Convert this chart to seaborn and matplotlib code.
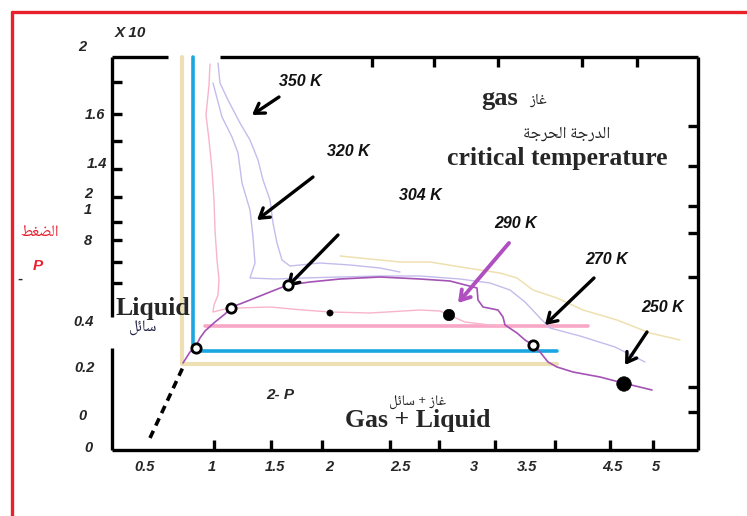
import matplotlib
matplotlib.use("Agg")
import matplotlib.pyplot as plt
from matplotlib.lines import Line2D
from matplotlib import font_manager
import seaborn as sns
import pandas as pd

sns.set_theme(style="white")
plt.rcParams['font.family'] = ['Liberation Sans', 'DejaVu Sans']

# ---------------- data (V along x, P along y, chart units) ----------------
beige_x = [0.70, 0.70, 4.45]
beige_y = [3.93, 0.86, 0.86]
blue_x = [0.81, 0.81, 4.45]
blue_y = [3.93, 0.99, 0.99]
pinkbar_x = [0.93, 4.76]
pinkbar_y = [1.24, 1.24]
dash_x = [0.38, 0.72]
dash_y = [0.12, 0.85]

purple_x = [0.71, 0.78, 0.84, 0.88, 0.93, 1.03, 1.13, 1.20, 1.33, 1.48, 1.63, 1.76,
            1.98, 2.28, 2.68, 3.08, 3.38, 3.65, 3.66, 3.71, 3.86, 3.91, 3.93, 4.05,
            4.13, 4.21, 4.28, 4.36, 4.45, 4.61, 4.88, 5.11, 5.40]
purple_y = [0.87, 0.98, 1.04, 1.12, 1.19, 1.28, 1.36, 1.43, 1.48, 1.54, 1.60, 1.65,
            1.68, 1.71, 1.73, 1.71, 1.69, 1.62, 1.50, 1.43, 1.40, 1.33, 1.25, 1.17,
            1.10, 1.05, 0.98, 0.88, 0.83, 0.78, 0.73, 0.67, 0.60]

pink_x = [0.98, 0.97, 0.94, 0.97, 1.00, 1.02, 1.03, 1.05, 1.07, 1.06, 1.02, 1.01,
          1.13, 1.25, 1.58, 1.91, 2.18, 2.58, 2.75, 3.08, 3.28, 3.37, 3.53, 3.78, 3.93]
pink_y = [3.86, 3.65, 3.35, 3.10, 2.80, 2.50, 2.20, 1.90, 1.70, 1.55, 1.45, 1.38,
          1.41, 1.42, 1.43, 1.40, 1.38, 1.37, 1.38, 1.40, 1.39, 1.35, 1.28, 1.25, 1.24]

lav1_x = [1.01, 1.10, 1.20, 1.26, 1.30, 1.38, 1.41, 1.43, 1.38, 1.63, 1.91, 2.28,
          2.68, 3.08, 3.48, 3.78, 3.98, 4.13, 4.28, 4.38, 4.68, 5.03, 5.33]
lav1_y = [3.67, 3.33, 3.13, 2.97, 2.67, 2.40, 2.13, 1.87, 1.72, 1.71, 1.72, 1.73,
          1.74, 1.74, 1.71, 1.67, 1.60, 1.48, 1.32, 1.22, 1.14, 1.03, 0.88]

lav2_x = [1.06, 1.08, 1.16, 1.28, 1.38, 1.46, 1.51, 1.58, 1.61, 1.65, 1.70, 1.78,
          2.08, 2.38, 2.68, 2.88]
lav2_y = [3.87, 3.67, 3.50, 3.27, 3.10, 2.90, 2.70, 2.50, 2.27, 2.07, 1.90, 1.84,
          1.87, 1.85, 1.82, 1.78]

tan_x = [2.28, 2.58, 2.88, 3.18, 3.55, 3.88, 4.05, 4.21, 4.45, 4.71, 5.05, 5.38, 5.68]
tan_y = [1.94, 1.91, 1.88, 1.88, 1.82, 1.77, 1.72, 1.60, 1.52, 1.40, 1.30, 1.17, 1.10]

open_x = [0.84, 1.19, 1.76, 4.21]
open_y = [1.02, 1.42, 1.65, 1.05]
dot_x = [2.18, 3.37, 5.12]
dot_y = [1.37, 1.35, 0.66]
dot_s = [20, 60, 95]

temp_labels = ["350 K", "320 K", "304 K", "290 K", "270 K", "250 K"]
temp_label_x = [1.88, 2.36, 3.08, 4.04, 4.95, 5.51]
temp_label_y = [3.68, 2.99, 2.54, 2.26, 1.90, 1.42]
arrow_tail_x = [1.67, 2.01, 2.26, 3.97, 4.82, 5.35]
arrow_tail_y = [3.53, 2.73, 2.15, 2.07, 1.72, 1.18]
arrow_head_x = [1.40, 1.45, 1.75, 3.46, 4.33, 5.13]
arrow_head_y = [3.35, 2.30, 1.63, 1.47, 1.25, 0.85]
arrow_colors = ['black', 'black', 'black', '#b050c0', 'black', 'black']

x_label_text = ["0.5", "1", "1.5", "2", "2.5", "3", "3.5", "4.5", "5"]
x_label_pos = [0.33, 1.00, 1.63, 2.17, 2.88, 3.62, 4.15, 5.00, 5.44]
y_label_text = ["2", "1.6", "1.4", "2", "1", "8", "0.4", "0.2", "0", "0"]
y_label_x = [-0.30, -0.17, -0.15, -0.24, -0.24, -0.24, -0.28, -0.27, -0.30, -0.24]
y_label_pos = [4.03, 3.35, 2.86, 2.56, 2.40, 2.09, 1.28, 0.82, 0.34, 0.02]

bottom_ticks = [1.02, 1.59, 2.10, 2.78, 3.27, 3.83, 4.43, 4.98, 5.41]
top_ticks = [2.60, 3.22, 3.86, 4.70, 5.25]
left_ticks = [3.68, 3.36, 3.09, 2.81, 2.53, 2.28, 2.10, 1.88, 1.67]
right_ticks = [3.24, 2.84, 2.44, 2.17, 1.73, 0.63, 0.38]

# Arabic words: shaped presentation forms in visual (left-to-right) order
AR_SHAPED = {
    'pressure': "\uFEC2\uFED0\uFEC0\uFEDF\uFE8D",                   # الضغط
    'gas': "\uFEAF\uFE8E\uFECF",                                      # غاز
    'liquid': "\uFEDE\uFE8B\uFE8E\uFEB3",                             # سائل
    'critical': "\uFE94\uFE9F\uFEAE\uFEA4\uFEDF\uFE8D "
                "\uFE94\uFE9F\uFEAD\uFEAA\uFEDF\uFE8D",               # الدرجة الحرجة
}
# same words with basic letters, reversed for left-to-right drawing
AR_PLAIN = {
    'pressure': "\u0637\u063A\u0636\u0644\u0627",
    'gas': "\u0632\u0627\u063A",
    'liquid': "\u0644\u0626\u0627\u0633",
    'critical': "\u0629\u062C\u0631\u062D\u0644\u0627 \u0629\u062C\u0631\u062F\u0644\u0627",
}


def pick_arabic_font():
    pref = ['Noto Naskh Arabic', 'Amiri', 'Noto Sans Arabic', 'Scheherazade New',
            'Cairo', 'Tajawal', 'Almarai', 'IBM Plex Sans Arabic', 'Lateef',
            'Noto Kufi Arabic', 'Changa', 'El Messiri', 'Harmattan', 'Reem Kufi']
    try:
        from fontTools.ttLib import TTFont
    except Exception:
        return None, False
    entries = font_manager.fontManager.ttflist
    needed = "".join(AR_SHAPED.values()).replace(" ", "")

    def check(f):
        try:
            tt = TTFont(f.fname, fontNumber=0, lazy=True)
            cmap = tt.getBestCmap() or {}
            return (0x0627 in cmap), all(ord(c) in cmap for c in needed)
        except Exception:
            return False, False
    best_plain = None
    for name in pref:
        for f in entries:
            if f.name == name:
                has, shaped = check(f)
                if shaped:
                    return f.name, True
                if has and best_plain is None:
                    best_plain = f.name
    for f in entries:
        has, shaped = check(f)
        if shaped:
            return f.name, True
        if has and best_plain is None:
            best_plain = f.name
    return best_plain, False


ar_name, ar_shaped = pick_arabic_font()
AR = AR_SHAPED if ar_shaped else AR_PLAIN
ar_font = ([ar_name] if ar_name else []) + ['DejaVu Sans']
ar_pressure = AR['pressure']
ar_gas = AR['gas']
ar_liquid = AR['liquid']
ar_critical = AR['critical']
ar_mix = ar_liquid + " + " + ar_gas   # سائل + غاز

# ---------------- figure ----------------
W, H = 747, 516
fig = plt.figure(figsize=(W / 100, H / 100), dpi=100)
fig.patch.set_facecolor('white')
ax = fig.add_axes([112 / W, 66 / H, 586 / W, 393 / H])
ax.set_xlim(0, 5.86)
ax.set_ylim(0, 3.93)
for s in ax.spines.values():
    s.set_visible(False)


def curve(xs, ys, color, lw, ls='-'):
    df = pd.DataFrame({'x': xs, 'y': ys})
    sns.lineplot(data=df, x='x', y='y', sort=False, estimator=None, ax=ax,
                 color=color, lw=lw, ls=ls, clip_on=False)


curve(beige_x, beige_y, '#eee0b4', 3.0)
curve(blue_x, blue_y, '#1aa6e0', 2.6)
curve(pinkbar_x, pinkbar_y, '#f8a8c4', 2.6)
curve(tan_x, tan_y, '#efe0b0', 1.1)
curve(lav2_x, lav2_y, '#c4bcec', 1.0)
curve(lav1_x, lav1_y, '#c4bcec', 1.0)
curve(pink_x, pink_y, '#f8b4cc', 1.0)
curve(purple_x, purple_y, '#a452b4', 1.2)
ax.plot(dash_x, dash_y, color='black', lw=2.6, ls=(0, (2.2, 1.6)), clip_on=False)

sns.scatterplot(x=open_x, y=open_y, ax=ax, s=45, marker='o', facecolor='white',
                edgecolor='black', linewidth=2.0, zorder=5)
sns.scatterplot(x=dot_x, y=dot_y, ax=ax, size=dot_s, sizes=(20, 110), legend=False,
                color='black', edgecolor='black', zorder=5)
ax.set_xlabel('')
ax.set_ylabel('')

for lab, lx, ly, tx, ty, hx, hy, c in zip(temp_labels, temp_label_x, temp_label_y,
                                          arrow_tail_x, arrow_tail_y, arrow_head_x,
                                          arrow_head_y, arrow_colors):
    ax.text(lx, ly, lab, ha='center', va='center', fontsize=11.5,
            fontweight='bold', fontstyle='italic', color='#111111')
    ax.annotate('', xy=(hx, hy), xytext=(tx, ty),
                arrowprops=dict(arrowstyle='->,head_length=0.55,head_width=0.35',
                                lw=2.4 if c == 'black' else 2.8, color=c,
                                shrinkA=0, shrinkB=0))

serif = ['Liberation Serif', 'DejaVu Serif']
ax.text(3.88, 3.51, "gas", ha='center', va='center', fontsize=19,
        fontweight='bold', family=serif)
ax.text(4.26, 3.50, ar_gas, ha='center', va='center', fontsize=11,
        family=ar_font, color='#222222')
ax.text(4.55, 3.17, ar_critical, ha='center', va='center', fontsize=12,
        family=ar_font, color='#222222')
ax.text(4.45, 2.91, "critical temperature", ha='center', va='center', fontsize=18.5,
        fontweight='bold', family=serif)
ax.text(0.41, 1.42, "Liquid", ha='center', va='center', fontsize=18.5,
        fontweight='bold', family=serif)
ax.text(0.31, 1.22, ar_liquid, ha='center', va='center', fontsize=11.5,
        family=ar_font, color='#222244')
ax.text(1.68, 0.55, "2- P", ha='center', va='center', fontsize=11,
        fontweight='bold', fontstyle='italic')
ax.text(3.06, 0.48, ar_mix, ha='center', va='center', fontsize=10.5,
        family=ar_font, color='#222222')
ax.text(3.06, 0.29, "Gas + Liquid", ha='center', va='center', fontsize=18.5,
        fontweight='bold', family=serif)

# tick labels
for t, xp in zip(x_label_text, x_label_pos):
    ax.text(xp, -0.17, t, ha='center', va='center', fontsize=10.5,
            fontweight='bold', fontstyle='italic', clip_on=False)
for t, xp, yp in zip(y_label_text, y_label_x, y_label_pos):
    ax.text(xp, yp, t, ha='center', va='center', fontsize=10.5,
            fontweight='bold', fontstyle='italic', clip_on=False)
ax.text(0.18, 4.17, "X 10", ha='center', va='center', fontsize=11,
        fontweight='bold', fontstyle='italic', clip_on=False)
ax.text(-0.74, 1.84, "P", ha='center', va='center', fontsize=11,
        fontweight='bold', fontstyle='italic', color='#e82030', clip_on=False)
ax.text(-0.72, 2.19, ar_pressure, ha='center', va='center', fontsize=11.5,
        color='#e82030', family=ar_font, clip_on=False)
ax.text(-0.92, 1.71, "-", ha='center', va='center', fontsize=11,
        fontweight='bold', clip_on=False)

# frame with gaps
frame_kw = dict(color='black', lw=2.4, clip_on=False, solid_capstyle='butt')
ax.plot([0, 0.56], [3.93, 3.93], **frame_kw)
ax.plot([1.08, 5.86], [3.93, 3.93], **frame_kw)
ax.plot([5.86, 5.86], [3.93, 0], **frame_kw)
ax.plot([0, 5.86], [0, 0], **frame_kw)
ax.plot([0, 0], [3.93, 1.33], **frame_kw)
ax.plot([0, 0], [1.02, 0], **frame_kw)

# ticks (inward)
ax.set_xticks(bottom_ticks)
ax.set_yticks(left_ticks)
ax.set_xticklabels([])
ax.set_yticklabels([])
ax.tick_params(axis='both', direction='in', length=7, width=2.4, color='black',
               bottom=True, left=True, top=False, right=False)
sec_x = ax.secondary_xaxis('top')
sec_x.set_xticks(top_ticks)
sec_x.set_xticklabels([])
sec_x.tick_params(direction='in', length=7, width=2.4, color='black')
sec_y = ax.secondary_yaxis('right')
sec_y.set_yticks(right_ticks)
sec_y.set_yticklabels([])
sec_y.tick_params(direction='in', length=7, width=2.4, color='black')
for s in list(sec_x.spines.values()) + list(sec_y.spines.values()):
    s.set_visible(False)
ax.grid(False)

# red partial border
fig.add_artist(Line2D([12 / W, 12 / W], [0, 1 - 12 / H], color='#e8202a', lw=2.4))
fig.add_artist(Line2D([12 / W, 1], [1 - 12 / H, 1 - 12 / H], color='#e8202a', lw=2.4))

fig.savefig("out.png", dpi=100, facecolor='white')
